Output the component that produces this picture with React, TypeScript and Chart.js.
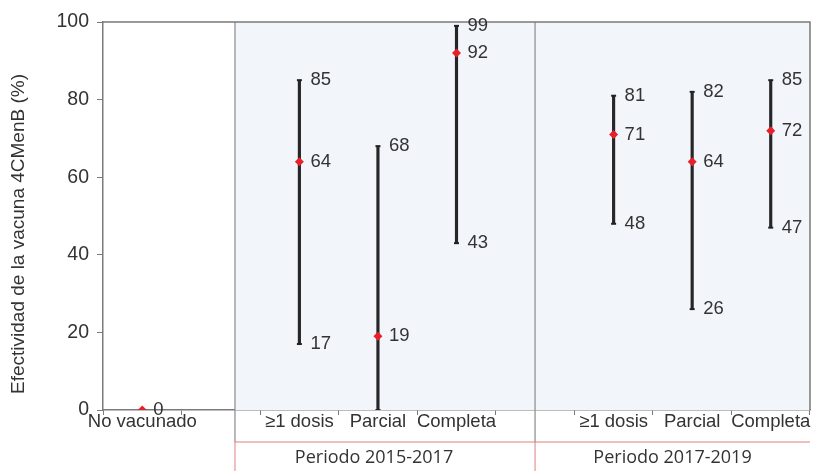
import React, { useEffect, useRef } from 'react';
import { Chart, registerables } from 'chart.js';

Chart.register(...registerables);

const categories = ['No vacunado', '', '≥1 dosis', 'Parcial', 'Completa', '', '≥1 dosis', 'Parcial', 'Completa'];
const estimates: (number | null)[] = [0, null, 64, 19, 92, null, 71, 64, 72];
const lowerCI: (number | null)[] = [null, null, 17, 0, 43, null, 48, 26, 47];
const upperCI: (number | null)[] = [null, null, 85, 68, 99, null, 81, 82, 85];
const periodLabels = ['Periodo 2015-2017', 'Periodo 2017-2019'];
const yTitle = 'Efectividad de la vacuna 4CMenB (%)';

const TEXT = '#333333';
const AXIS = '#7a7a7a';

const decorPlugin = {
  id: 'decor',
  beforeDatasetsDraw(chart: any) {
    const { ctx, chartArea } = chart;
    const x = chart.scales.x;
    const p0 = x.getPixelForValue(1.18);
    const pMid = x.getPixelForValue(5);
    ctx.save();
    ctx.fillStyle = '#f2f6fb';
    ctx.fillRect(p0, chartArea.top, chartArea.right - p0, chartArea.bottom - chartArea.top);
    ctx.strokeStyle = '#8a8a8a';
    ctx.lineWidth = 1.2;
    ctx.beginPath();
    ctx.moveTo(p0, chartArea.top);
    ctx.lineTo(p0, chartArea.bottom + 32);
    ctx.moveTo(pMid, chartArea.top);
    ctx.lineTo(pMid, chartArea.bottom + 32);
    ctx.stroke();
    ctx.strokeStyle = AXIS;
    ctx.lineWidth = 1.5;
    ctx.beginPath();
    ctx.moveTo(chartArea.left, chartArea.top);
    ctx.lineTo(chartArea.right, chartArea.top);
    ctx.lineTo(chartArea.right, chartArea.bottom);
    ctx.stroke();
    ctx.restore();
  },
  afterDraw(chart: any) {
    const { ctx, chartArea } = chart;
    const x = chart.scales.x;
    const p0 = x.getPixelForValue(1.18);
    const pMid = x.getPixelForValue(5);
    const pEnd = chartArea.right;
    const lineY = chartArea.bottom + 32;
    ctx.save();
    ctx.strokeStyle = '#e08080';
    ctx.lineWidth = 1;
    ctx.beginPath();
    ctx.moveTo(p0, lineY);
    ctx.lineTo(pEnd, lineY);
    ctx.moveTo(p0, lineY);
    ctx.lineTo(p0, chart.height);
    ctx.moveTo(pMid, lineY);
    ctx.lineTo(pMid, chart.height);
    ctx.stroke();
    ctx.fillStyle = TEXT;
    ctx.font = '18px "Open Sans"';
    ctx.textAlign = 'center';
    ctx.textBaseline = 'middle';
    ctx.fillText(periodLabels[0], (p0 + pMid) / 2 - 11, lineY + 16);
    ctx.fillText(periodLabels[1], (pMid + pEnd) / 2, lineY + 16);

    // y axis title
    ctx.save();
    ctx.translate(19, (chartArea.top + chartArea.bottom) / 2 + 18);
    ctx.rotate(-Math.PI / 2);
    ctx.font = '19px "Liberation Sans"';
    ctx.fillText(yTitle, 0, 0);
    ctx.restore();

    // value labels
    ctx.font = '18.5px "Liberation Sans"';
    ctx.textAlign = 'left';
    const estMeta = chart.getDatasetMeta(0);
    const upMeta = chart.getDatasetMeta(1);
    const loMeta = chart.getDatasetMeta(2);
    for (let i = 0; i < categories.length; i++) {
      if (estimates[i] !== null) {
        const el = estMeta.data[i];
        ctx.fillText(String(estimates[i]), el.x + 11, el.y);
      }
      if (upperCI[i] !== null) {
        const el = upMeta.data[i];
        ctx.fillText(String(upperCI[i]), el.x + 11, el.y);
      }
      if (lowerCI[i] !== null && lowerCI[i] !== 0) {
        const el = loMeta.data[i];
        ctx.fillText(String(lowerCI[i]), el.x + 11, el.y);
      }
    }
    ctx.restore();
  },
};

export default function App() {
  const ref = useRef<HTMLCanvasElement>(null);
  useEffect(() => {
    document.body.style.margin = '0';
    const ranges = categories.map((_, i) =>
      lowerCI[i] !== null && upperCI[i] !== null ? [lowerCI[i], upperCI[i]] : null
    );
    const chart = new Chart(ref.current!, {
      type: 'bar',
      data: {
        labels: categories,
        datasets: [
          {
            type: 'line',
            data: estimates,
            showLine: false,
            pointStyle: 'rectRot',
            pointRadius: 4.5,
            pointBackgroundColor: '#e8202a',
            pointBorderWidth: 0,
            order: 0,
          } as any,
          {
            type: 'line',
            data: upperCI,
            showLine: false,
            pointStyle: 'line',
            pointRadius: 2.5,
            pointBorderColor: '#222',
            pointBorderWidth: 2,
            order: 1,
          } as any,
          {
            type: 'line',
            data: lowerCI,
            showLine: false,
            pointStyle: 'line',
            pointRadius: 2.5,
            pointBorderColor: '#222',
            pointBorderWidth: 2,
            order: 1,
          } as any,
          {
            type: 'bar',
            data: ranges as any,
            backgroundColor: '#262626',
            barThickness: 2.5,
            borderSkipped: false,
            order: 2,
          } as any,
        ],
      },
      options: {
        responsive: false,
        animation: false,
        layout: { padding: { top: 22, right: 1, left: 0, bottom: 0 } },
        plugins: { legend: { display: false }, tooltip: { enabled: false } },
        scales: {
          x: {
            offset: true,
            grid: { display: true, drawOnChartArea: false, drawTicks: true, tickLength: 5, color: AXIS, offset: true },
            border: { color: AXIS, width: 1.5 },
            ticks: { color: TEXT, font: { size: 18.5, family: 'Liberation Sans' }, padding: -4, maxRotation: 0, autoSkip: false },
            afterFit(scale: any) { scale.height = 61; },
          },
          y: {
            min: 0,
            max: 100,
            grid: { display: true, drawOnChartArea: false, drawTicks: true, tickLength: 6, color: AXIS },
            border: { color: AXIS, width: 1.5 },
            ticks: { stepSize: 20, color: TEXT, font: { size: 19.5, family: 'Liberation Sans' }, padding: 8 },
            title: { display: false },
            afterFit(scale: any) { scale.width = 103; },
          },
        },
      },
      plugins: [decorPlugin],
    });
    return () => chart.destroy();
  }, []);
  return (
    <div style={{ position: 'fixed', left: 0, top: 0, width: 816, height: 471 }}>
      <canvas ref={ref} width={816} height={471} />
    </div>
  );
}
